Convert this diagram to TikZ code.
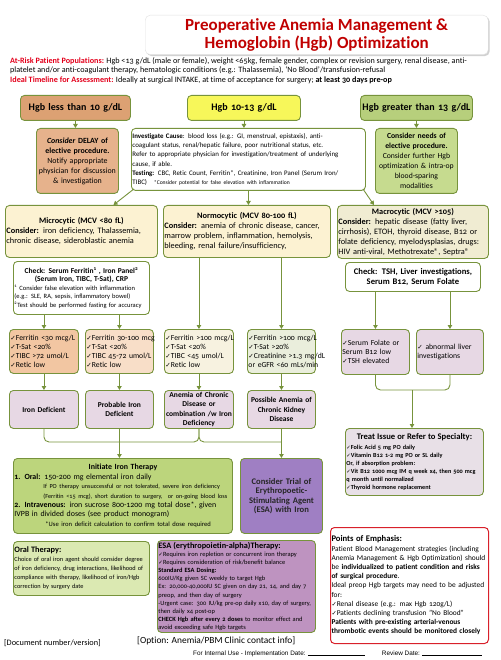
\documentclass[tikz,border=0pt]{standalone}
\usepackage{fontspec}
\setmainfont{Carlito}[Numbers=OldStyle, Ligatures={NoCommon,NoContextual}]
\newfontfamily\ckfont{DejaVu Sans}[Scale=0.85]
\newfontfamily\arialfont{Liberation Sans}
\usetikzlibrary{arrows.meta,shadows}
\definecolor{linegreen}{HTML}{77933C}
\definecolor{titlered}{HTML}{C00000}
\definecolor{alertred}{HTML}{E3001B}
\definecolor{lowtan}{HTML}{DCA173}
\definecolor{midyellow}{HTML}{F7F75A}
\definecolor{highgreen}{HTML}{B7CF7C}
\definecolor{delaytan}{HTML}{E6B28C}
\definecolor{needsgreen}{HTML}{C6DB8F}
\definecolor{cream}{HTML}{FCF2D2}
\definecolor{macrocream}{HTML}{F0ECD2}
\definecolor{labtan}{HTML}{F2C6A2}
\definecolor{labpeach}{HTML}{F8DEC8}
\definecolor{labivory}{HTML}{F7F2E0}
\definecolor{labsage}{HTML}{EAEEDC}
\definecolor{mauve}{HTML}{E7D8E4}
\definecolor{irongreen}{HTML}{BCD57C}
\definecolor{esapurple}{HTML}{9F7FC3}
\definecolor{treatmauve}{HTML}{E8E0E7}
\definecolor{oralgreen}{HTML}{DBE9B2}
\definecolor{esapink}{HTML}{BE93C0}
\definecolor{pointred}{HTML}{D8202A}
\newcommand{\fsz}[2]{\fontsize{#1}{#2}\selectfont}
\newcommand{\ck}{{\ckfont ✓}}

\begin{document}
\hyphenpenalty=10000 \exhyphenpenalty=10000
\begin{tikzpicture}[x=1pt, y=-1pt,
    box/.style={draw=linegreen, line width=0.9pt, rounded corners=4pt, anchor=north west, inner xsep=1pt, inner ysep=0pt},
    hgbbox/.style={box, align=center, font=\bfseries\fsz{10}{11}, minimum height=25pt},
    labbox/.style={box, minimum height=44pt, align=left, font=\fsz{7.7}{9}},
    dxbox/.style={box, fill=mauve, minimum height=38pt, align=center, font=\bfseries\fsz{7.5}{9.2}},
    arr/.style={draw=linegreen, line width=0.9pt, -{Triangle[length=4pt,width=4.5pt]}},
    link/.style={draw=linegreen, line width=0.9pt, rounded corners=5pt}]
    \useasboundingbox (0,0) rectangle (500,660);

    % Title and intro
    \node[anchor=north west, fill=white, draw=black!12, rounded corners=5pt, minimum width=343pt, minimum height=38pt,
          drop shadow={shadow xshift=1.5pt, shadow yshift=-1.5pt, fill=black!30, opacity=0.6},
          align=center, text=titlered, font=\bfseries\fsz{17}{18}] (title) at (145,15)
          {Preoperative Anemia Management \&\\Hemoglobin (Hgb) Optimization};
    \node[anchor=north west, inner sep=0pt, align=left, font=\fsz{8.15}{9.6}] (intro) at (10,57)
          {{\color{alertred}\bfseries At-Risk Patient Populations:} Hgb <13 g/dL (male or female), weight <65kg, female gender, complex or revision surgery, renal disease, anti-\\
           platelet and/or anti-coagulant therapy, hematologic conditions (e.g.: Thalassemia), ‘No Blood’/transfusion-refusal\\
           {\color{alertred}\bfseries Ideal Timeline for Assessment:} Ideally at surgical INTAKE, at time of acceptance for surgery; \textbf{at least 30 days pre-op}};

    % Hgb levels
    \node[hgbbox, fill=lowtan, text width=108pt] (hgblow) at (20,95) {Hgb less than 10 g/dL};
    \node[hgbbox, fill=midyellow, text width=111pt] (hgbmid) at (187,95) {Hgb 10-13 g/dL};
    \node[hgbbox, fill=highgreen, text width=110pt] (hgbhigh) at (360,95) {Hgb greater than 13 g/dL};

    % First actions
    \node[box, fill=delaytan, text width=80pt, minimum height=65pt, align=center, font=\fsz{7.9}{10}] (delay) at (36,128)
          {\textbf{\textit{Consider} DELAY of}\\\textbf{elective procedure.}\\Notify appropriate\\physician for discussion\\\& investigation};
    \node[box, fill=white, text width=232pt, minimum height=62pt, align=left, font=\fsz{6.9}{9.2}] (invest) at (131,128)
          {\textbf{Investigate Cause}: blood loss (e.g.: GI, menstrual, epistaxis), anti-\\
           coagulant status, renal/hepatic failure, poor nutritional status, etc.\\
           Refer to appropriate physician for investigation/treatment of underlying\\
           cause, if able.\\
           \textbf{Testing:} CBC, Retic Count, Ferritin*, Creatinine, Iron Panel (Serum Iron/\\
           TIBC)\quad{\fsz{5.6}{9.2}*Consider potential for false elevation with inflammation}};
    \node[box, fill=needsgreen, text width=80pt, minimum height=65pt, align=center, font=\fsz{7.7}{10}] (needs) at (375,128)
          {\textbf{Consider needs of}\\\textbf{elective procedure.}\\Consider further Hgb\\optimization \& intra-op\\blood-sparing\\modalities};

    % MCV types
    \node[box, fill=cream, text width=150pt, minimum height=52pt, align=left, font=\fsz{8.3}{10}] (micro) at (5,205)
          {\makebox[\linewidth]{\textbf{Microcytic (MCV <80 fL)}}\\\textbf{Consider:} iron deficiency, Thalassemia,\\chronic disease, sideroblastic anemia};
    \node[box, fill=cream, text width=165pt, minimum height=52pt, align=left, font=\fsz{8.3}{10}] (normo) at (163,205)
          {\makebox[\linewidth]{\textbf{Normocytic (MCV 80-100 fL)}}\\\textbf{Consider:} anemia of chronic disease, cancer,\\marrow problem, inflammation, hemolysis,\\bleeding, renal failure/insufficiency,};
    \node[box, fill=macrocream, text width=149pt, minimum height=53pt, align=left, font=\fsz{8.3}{9.9}] (macro) at (337,205)
          {\makebox[\linewidth]{\textbf{Macrocytic (MCV >105)}}\\\textbf{Consider:} hepatic disease (fatty liver,\\cirrhosis), ETOH, thyroid disease, B12 or\\folate deficiency, myelodysplasias, drugs:\\HIV anti-viral, Methotrexate®, Septra®};

    % Checks
    \node[box, fill=white, text width=134pt, minimum height=53pt, align=left, font=\fsz{6.5}{8.4}] (chkmicro) at (13,261)
          {\makebox[\linewidth]{\fsz{7.5}{8.4}\textbf{Check: Serum Ferritin\textsuperscript{1} , Iron Panel\textsuperscript{2}}}\\
           \makebox[\linewidth]{\fsz{7.5}{8.4}\textbf{(Serum Iron, TIBC, T-Sat), CRP}}\\
           \textsuperscript{1} Consider false elevation with inflammation\\
           (e.g.: SLE, RA, sepsis, inflammatory bowel)\\
           \textsuperscript{2}Test should be performed fasting for accuracy};
    \node[box, fill=white, text width=133pt, minimum height=29pt, align=center, font=\bfseries\fsz{8.6}{10.5}] (chkmacro) at (345,262)
          {Check: TSH, Liver investigations,\\Serum B12, Serum Folate};

    % Lab results
    \node[labbox, fill=labtan, text width=67pt] (labA) at (9,329)
          {\ck Ferritin~<30~mcg/L\\\ck T-Sat~<20\%\\\ck TIBC~>72~umol/L\\\ck Retic~low};
    \node[labbox, fill=labpeach, text width=66pt] (labB) at (85,329)
          {\ck Ferritin~30-100~mcg\\\ck T-Sat~<20\%\\\ck TIBC~45-72~umol/L\\\ck Retic~low};
    \node[labbox, fill=labivory, text width=67pt] (labC) at (164,329)
          {\ck Ferritin~>100~mcg/L\\\ck T-Sat~<20\%\\\ck TIBC~<45~umol/L\\\ck Retic~low};
    \node[labbox, fill=labsage, text width=66pt] (labD) at (247,329)
          {\ck Ferritin~>100~mcg/L\\\ck T-Sat~>20\%\\\ck Creatinine~>1.3~mg/dL\\or~eGFR~<60~mLs/min};
    \node[labbox, fill=mauve, text width=66pt, minimum height=45pt] (labE) at (341,329)
          {\ck Serum~Folate~or\\Serum~B12~low\\\ck TSH~elevated};
    \node[labbox, fill=mauve, text width=65pt, minimum height=45pt] (labF) at (416,329)
          {\ck\ abnormal~liver\\investigations};

    % Diagnosis
    \node[dxbox, text width=67pt] (dxiron) at (9,390) {Iron Deficient};
    \node[dxbox, text width=66pt] (dxprob) at (85,390) {Probable Iron\\Deficient};
    \node[dxbox, text width=67pt] (dxacd) at (164,390) {Anemia of Chronic\\Disease or\\combination~/w~Iron\\Deficiency};
    \node[dxbox, text width=66pt] (dxckd) at (247,390) {Possible~Anemia~of\\Chronic Kidney\\Disease};

    % Treatment
    \node[box, fill=irongreen, text width=217pt, minimum height=75pt, align=left, font=\fsz{7.9}{9.4}] (ironrx) at (13,458)
          {\makebox[\linewidth]{\textbf{Initiate Iron Therapy}}\\
           \textbf{1. Oral:} 150-200 mg elemental iron daily\\
           \hspace*{29pt}{\fsz{6.2}{9.4}If PO therapy unsuccessful or not tolerated, severe iron deficiency}\\
           \hspace*{29pt}{\fsz{6.2}{9.4}(Ferritin <15 mcg), short duration to surgery,\ \ or on-going blood loss}\\
           \textbf{2. Intravenous:} iron sucrose 800-1200 mg total dose*, given\\
           IVPB in divided doses (see product monogram)\\
           \hspace*{31pt}{\fsz{6.6}{9.4}*Use iron deficit calculation to confirm total dose required}};
    \node[box, fill=esapurple, text width=80pt, minimum height=75pt, align=center, text=black!85, font=\bfseries\fsz{8.6}{9.5}] (esatrial) at (240,458)
          {Consider Trial of\\Erythropoetic-\\Stimulating Agent\\(ESA) with Iron};
    \node[box, fill=treatmauve, text width=136pt, minimum height=67pt, align=left, font=\bfseries\fsz{6.2}{8}] (treat) at (345,428)
          {\makebox[\linewidth]{\fsz{8.6}{8}Treat Issue or Refer to Specialty:}\\[2pt]
           \ck Folic Acid 5 mg PO daily\\
           \ck Vitamin B12 1-2 mg PO or SL daily\\
           Or, if absorption problem:\\
           \ck Vit B12 1000 mcg IM q week x4, then 500 mcg\\
           q month until normalized\\
           \ck Thyroid hormone replacement};

    % Notes
    \node[box, fill=oralgreen, text width=134pt, minimum height=54pt, align=left, font=\fsz{6.3}{9}] (oral) at (13,541)
          {{\fsz{8.3}{9}\textbf{Oral Therapy:}}\\
           Choice of oral iron agent should consider degree\\
           of iron deficiency, drug interactions, likelihood of\\
           compliance with therapy, likelihood of iron/Hgb\\
           correction by surgery date};
    \node[box, fill=esapink, text width=156pt, minimum height=92pt, align=left, font=\fsz{6.4}{8.1}] (esarx) at (157,540)
          {{\fsz{8.3}{8.1}\textbf{ESA (erythropoietin-alpha)Therapy:}}\\
           \ck Requires iron repletion or concurrent iron therapy\\
           \ck Requires consideration of risk/benefit balance\\
           \textbf{Standard ESA Dosing:}\\
           600IU/Kg given SC weekly to target Hgb\\
           Ex: 20,000-40,000IU SC given on day 21, 14, and day 7\\
           preop, and then day of surgery\\
           -Urgent case: 300 IU/kg pre-op daily x10, day of surgery,\\
           then daily x4 post-op\\
           \textbf{CHECK Hgb after every 2 doses} to monitor effect and\\
           avoid exceeding safe Hgb targets};
    \node[box, draw=pointred, line width=1pt, fill=white, text width=156pt, minimum height=116pt, align=left, font=\fsz{7.4}{9.2}] (points) at (330,527)
          {{\fsz{8.6}{9.2}\textbf{Points of Emphasis:}}\\
           Patient Blood Management strategies (including\\
           Anemia Management \& Hgb Optimization) should\\
           be \textbf{individualized to patient condition and risks}\\
           \textbf{of surgical procedure}.\\
           Ideal preop Hgb targets may need to be adjusted\\
           for:\\
           \ck Renal disease (e.g.: max Hgb 120g/L)\\
           \ck Patients declining transfusion "No Blood"\\
           \textbf{Patients with pre-existing arterial-venous}\\
           \textbf{thrombotic events should be monitored closely}\par\vspace{10pt}};

    % Footer
    \node[anchor=west, inner sep=0pt, font=\fsz{8.3}{9}] (docver) at (4,643) {[Document number/version]};
    \node[anchor=west, inner sep=0pt, font=\fsz{9.4}{11}] (contact) at (137,641) {[Option: Anemia/PBM Clinic contact info]};
    \node[anchor=west, inner sep=0pt, font=\arialfont\fsz{6.4}{7}] (footer) at (193,654)
          {For Internal Use - Implementation Date: \rule{57pt}{0.4pt}\hspace{17pt}Review Date: \rule{60pt}{0.4pt}};

    % Connectors
    \draw[arr] (hgblow.south) -- (hgblow.south |- delay.north);
    \draw[arr] (hgbmid.south) -- (hgbmid.south |- invest.north);
    \draw[arr] (hgbhigh.south) -- (hgbhigh.south |- needs.north);
    \draw[arr] ([shift={(3,-2)}]invest.south west) -- ([xshift=32pt]micro.north);
    \draw[arr] (invest.south) -- (invest.south |- normo.north);
    \draw[arr] ([shift={(-3,-2)}]invest.south east) -- ([xshift=-39pt]macro.north);
    \draw[arr] (chkmicro.south -| labA.north) -- (labA.north);
    \draw[arr] (chkmicro.south -| labB.north) -- (labB.north);
    \draw[arr] (normo.south -| labC.north) -- (labC.north);
    \draw[arr] (normo.south -| labD.north) -- (labD.north);
    \draw[arr] (chkmacro.south -| labE.north) -- (labE.north);
    \draw[arr] (chkmacro.south -| labF.north) -- (labF.north);
    \foreach \a/\b in {labA/dxiron, labB/dxprob, labC/dxacd, labD/dxckd}
        \draw[arr] (\a.south) -- (\b.north);

    \coordinate (ironjoin) at (119,442);
    \coordinate (esajoin) at (281,442);
    \coordinate (macjoin) at (412,390);
    \draw[link] (dxiron.south) |- (ironjoin) -| (dxacd.south);
    \draw[link] (dxacd.south) |- (esajoin);
    \draw[arr] (dxprob.south) -- (ironrx.north -| dxprob.south);
    \draw[arr] (dxckd.south) -- (esatrial.north -| dxckd.south);
    \draw[link] (labE.south) |- (macjoin) -| (labF.south);
    \draw[arr] (macjoin) -- (treat.north -| macjoin);
\end{tikzpicture}
\end{document}
